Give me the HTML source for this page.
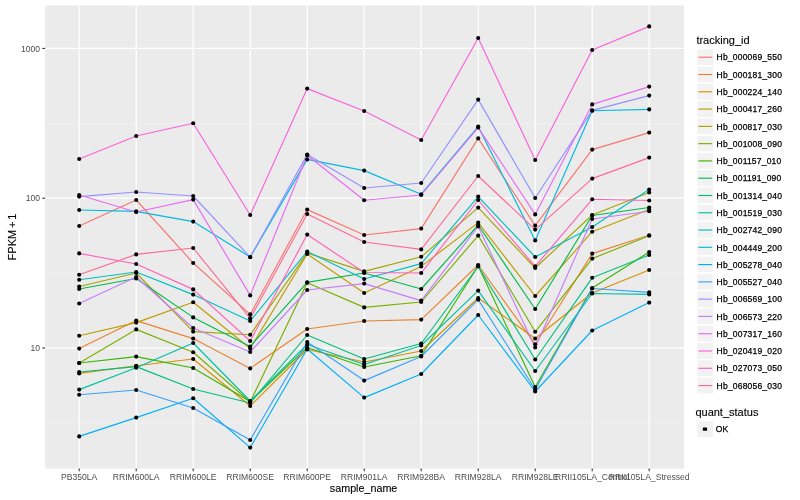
<!DOCTYPE html><html><head><meta charset="utf-8"><title>plot</title><style>html,body{margin:0;padding:0;background:#fff}svg{display:block;will-change:transform}text{font-family:"Liberation Sans",sans-serif;fill:#000}.a{font-size:8.6px;fill:#4D4D4D}.t{font-size:11px}.l{font-size:8.5px;letter-spacing:.2px;stroke:#000;stroke-width:.25px}.t{stroke:#000;stroke-width:.12px}</style></head><body>
<svg width="800" height="500" viewBox="0 0 800 500">
<rect width="800" height="500" fill="#fff"/>
<rect x="45.1" y="5.5" width="638.9" height="463.1" fill="#EBEBEB"/>
<line x1="45.1" x2="684" y1="123.4" y2="123.4" stroke="#F3F3F3" stroke-width="0.75"/>
<line x1="45.1" x2="684" y1="273.2" y2="273.2" stroke="#F3F3F3" stroke-width="0.75"/>
<line x1="45.1" x2="684" y1="423.1" y2="423.1" stroke="#F3F3F3" stroke-width="0.75"/>
<line x1="45.1" x2="684" y1="48.4" y2="48.4" stroke="#fff" stroke-width="1.25"/>
<line x1="45.1" x2="684" y1="198.2" y2="198.2" stroke="#fff" stroke-width="1.25"/>
<line x1="45.1" x2="684" y1="348.0" y2="348.0" stroke="#fff" stroke-width="1.25"/>
<line x1="79.2" x2="79.2" y1="5.5" y2="468.6" stroke="#fff" stroke-width="1.25"/>
<line x1="136.2" x2="136.2" y1="5.5" y2="468.6" stroke="#fff" stroke-width="1.25"/>
<line x1="193.2" x2="193.2" y1="5.5" y2="468.6" stroke="#fff" stroke-width="1.25"/>
<line x1="250.2" x2="250.2" y1="5.5" y2="468.6" stroke="#fff" stroke-width="1.25"/>
<line x1="307.2" x2="307.2" y1="5.5" y2="468.6" stroke="#fff" stroke-width="1.25"/>
<line x1="364.2" x2="364.2" y1="5.5" y2="468.6" stroke="#fff" stroke-width="1.25"/>
<line x1="421.2" x2="421.2" y1="5.5" y2="468.6" stroke="#fff" stroke-width="1.25"/>
<line x1="478.2" x2="478.2" y1="5.5" y2="468.6" stroke="#fff" stroke-width="1.25"/>
<line x1="535.2" x2="535.2" y1="5.5" y2="468.6" stroke="#fff" stroke-width="1.25"/>
<line x1="592.2" x2="592.2" y1="5.5" y2="468.6" stroke="#fff" stroke-width="1.25"/>
<line x1="649.2" x2="649.2" y1="5.5" y2="468.6" stroke="#fff" stroke-width="1.25"/>
<g fill="none" stroke-width="1.15" stroke-linejoin="round" stroke-linecap="butt">
<polyline points="79.2,226.0 136.2,200.0 193.2,263.0 250.2,314.4 307.2,209.6 364.2,235.0 421.2,228.6 478.2,138.4 535.2,225.6 592.2,149.6 649.2,132.6" stroke="#F8766D"/>
<polyline points="79.2,348.6 136.2,320.6 193.2,338.6 250.2,368.4 307.2,329.0 364.2,321.0 421.2,319.6 478.2,265.0 535.2,344.2 592.2,253.6 649.2,235.3" stroke="#EA8331"/>
<polyline points="79.2,373.4 136.2,365.8 193.2,359.0 250.2,406.0 307.2,349.5 364.2,362.0 421.2,351.0 478.2,298.0 535.2,338.5 592.2,293.0 649.2,270.0" stroke="#D89000"/>
<polyline points="79.2,335.8 136.2,322.6 193.2,302.2 250.2,348.5 307.2,254.0 364.2,293.0 421.2,266.4 478.2,222.6 535.2,296.0 592.2,231.7 649.2,209.5" stroke="#C09B00"/>
<polyline points="79.2,286.5 136.2,273.0 193.2,331.6 250.2,334.8 307.2,253.0 364.2,271.4 421.2,256.8 478.2,207.6 535.2,268.0 592.2,215.0 649.2,192.5" stroke="#A3A500"/>
<polyline points="79.2,363.0 136.2,329.4 193.2,352.2 250.2,402.0 307.2,282.8 364.2,307.4 421.2,302.0 478.2,235.6 535.2,331.8 592.2,258.6 649.2,235.7" stroke="#7CAE00"/>
<polyline points="79.2,363.0 136.2,356.6 193.2,368.0 250.2,401.5 307.2,347.5 364.2,367.0 421.2,355.8 478.2,266.0 535.2,387.0 592.2,288.0 649.2,252.0" stroke="#39B600"/>
<polyline points="79.2,289.0 136.2,278.5 193.2,317.4 250.2,346.5 307.2,282.4 364.2,273.0 421.2,289.0 478.2,225.0 535.2,309.0 592.2,215.5 649.2,207.5" stroke="#00BB4E"/>
<polyline points="79.2,372.0 136.2,366.6 193.2,389.0 250.2,403.0 307.2,335.0 364.2,359.0 421.2,343.5 478.2,266.5 535.2,359.5 592.2,277.8 649.2,255.0" stroke="#00BF7D"/>
<polyline points="79.2,389.6 136.2,367.8 193.2,343.0 250.2,401.0 307.2,344.5 364.2,364.5 421.2,345.5 478.2,290.6 535.2,371.0 592.2,293.5 649.2,294.4" stroke="#00C1A3"/>
<polyline points="79.2,279.8 136.2,272.0 193.2,294.6 250.2,321.0 307.2,251.5 364.2,279.0 421.2,263.6 478.2,196.6 535.2,257.0 592.2,227.0 649.2,189.5" stroke="#00BFC4"/>
<polyline points="79.2,210.0 136.2,211.4 193.2,221.6 250.2,257.0 307.2,159.4 364.2,170.6 421.2,194.2 478.2,126.6 535.2,240.4 592.2,110.8 649.2,109.4" stroke="#00BAE0"/>
<polyline points="79.2,436.4 136.2,417.6 193.2,398.2 250.2,447.6 307.2,349.0 364.2,397.6 421.2,374.0 478.2,315.0 535.2,391.5 592.2,330.5 649.2,302.6" stroke="#00B0F6"/>
<polyline points="79.2,394.8 136.2,390.0 193.2,408.0 250.2,440.0 307.2,342.0 364.2,380.6 421.2,356.5 478.2,299.6 535.2,389.5 592.2,288.5 649.2,292.4" stroke="#35A2FF"/>
<polyline points="79.2,196.6 136.2,192.0 193.2,196.0 250.2,257.2 307.2,154.6 364.2,188.0 421.2,183.0 478.2,99.6 535.2,198.0 592.2,110.4 649.2,95.6" stroke="#9590FF"/>
<polyline points="79.2,303.5 136.2,277.0 193.2,328.0 250.2,352.0 307.2,290.0 364.2,283.6 421.2,300.6 478.2,226.4 535.2,347.5 592.2,219.0 649.2,211.2" stroke="#C77CFF"/>
<polyline points="79.2,195.0 136.2,212.0 193.2,199.6 250.2,295.4 307.2,155.2 364.2,200.2 421.2,195.0 478.2,127.6 535.2,214.4 592.2,104.4 649.2,86.6" stroke="#E76BF3"/>
<polyline points="79.2,159.0 136.2,136.0 193.2,123.2 250.2,215.0 307.2,88.6 364.2,111.0 421.2,140.0 478.2,38.0 535.2,160.0 592.2,50.0 649.2,26.4" stroke="#FA62DB"/>
<polyline points="79.2,253.4 136.2,264.0 193.2,289.4 250.2,341.0 307.2,234.6 364.2,272.5 421.2,273.0 478.2,200.0 535.2,266.4 592.2,199.3 649.2,200.5" stroke="#FF62BC"/>
<polyline points="79.2,274.7 136.2,254.4 193.2,248.0 250.2,318.4 307.2,214.0 364.2,242.0 421.2,249.4 478.2,176.0 535.2,229.6 592.2,178.6 649.2,157.6" stroke="#FF6A98"/>
</g>
<g fill="#000">
<circle cx="79.2" cy="226.0" r="2.05"/>
<circle cx="136.2" cy="200.0" r="2.05"/>
<circle cx="193.2" cy="263.0" r="2.05"/>
<circle cx="250.2" cy="314.4" r="2.05"/>
<circle cx="307.2" cy="209.6" r="2.05"/>
<circle cx="364.2" cy="235.0" r="2.05"/>
<circle cx="421.2" cy="228.6" r="2.05"/>
<circle cx="478.2" cy="138.4" r="2.05"/>
<circle cx="535.2" cy="225.6" r="2.05"/>
<circle cx="592.2" cy="149.6" r="2.05"/>
<circle cx="649.2" cy="132.6" r="2.05"/>
<circle cx="79.2" cy="348.6" r="2.05"/>
<circle cx="136.2" cy="320.6" r="2.05"/>
<circle cx="193.2" cy="338.6" r="2.05"/>
<circle cx="250.2" cy="368.4" r="2.05"/>
<circle cx="307.2" cy="329.0" r="2.05"/>
<circle cx="364.2" cy="321.0" r="2.05"/>
<circle cx="421.2" cy="319.6" r="2.05"/>
<circle cx="478.2" cy="265.0" r="2.05"/>
<circle cx="535.2" cy="344.2" r="2.05"/>
<circle cx="592.2" cy="253.6" r="2.05"/>
<circle cx="649.2" cy="235.3" r="2.05"/>
<circle cx="79.2" cy="373.4" r="2.05"/>
<circle cx="136.2" cy="365.8" r="2.05"/>
<circle cx="193.2" cy="359.0" r="2.05"/>
<circle cx="250.2" cy="406.0" r="2.05"/>
<circle cx="307.2" cy="349.5" r="2.05"/>
<circle cx="364.2" cy="362.0" r="2.05"/>
<circle cx="421.2" cy="351.0" r="2.05"/>
<circle cx="478.2" cy="298.0" r="2.05"/>
<circle cx="535.2" cy="338.5" r="2.05"/>
<circle cx="592.2" cy="293.0" r="2.05"/>
<circle cx="649.2" cy="270.0" r="2.05"/>
<circle cx="79.2" cy="335.8" r="2.05"/>
<circle cx="136.2" cy="322.6" r="2.05"/>
<circle cx="193.2" cy="302.2" r="2.05"/>
<circle cx="250.2" cy="348.5" r="2.05"/>
<circle cx="307.2" cy="254.0" r="2.05"/>
<circle cx="364.2" cy="293.0" r="2.05"/>
<circle cx="421.2" cy="266.4" r="2.05"/>
<circle cx="478.2" cy="222.6" r="2.05"/>
<circle cx="535.2" cy="296.0" r="2.05"/>
<circle cx="592.2" cy="231.7" r="2.05"/>
<circle cx="649.2" cy="209.5" r="2.05"/>
<circle cx="79.2" cy="286.5" r="2.05"/>
<circle cx="136.2" cy="273.0" r="2.05"/>
<circle cx="193.2" cy="331.6" r="2.05"/>
<circle cx="250.2" cy="334.8" r="2.05"/>
<circle cx="307.2" cy="253.0" r="2.05"/>
<circle cx="364.2" cy="271.4" r="2.05"/>
<circle cx="421.2" cy="256.8" r="2.05"/>
<circle cx="478.2" cy="207.6" r="2.05"/>
<circle cx="535.2" cy="268.0" r="2.05"/>
<circle cx="592.2" cy="215.0" r="2.05"/>
<circle cx="649.2" cy="192.5" r="2.05"/>
<circle cx="79.2" cy="363.0" r="2.05"/>
<circle cx="136.2" cy="329.4" r="2.05"/>
<circle cx="193.2" cy="352.2" r="2.05"/>
<circle cx="250.2" cy="402.0" r="2.05"/>
<circle cx="307.2" cy="282.8" r="2.05"/>
<circle cx="364.2" cy="307.4" r="2.05"/>
<circle cx="421.2" cy="302.0" r="2.05"/>
<circle cx="478.2" cy="235.6" r="2.05"/>
<circle cx="535.2" cy="331.8" r="2.05"/>
<circle cx="592.2" cy="258.6" r="2.05"/>
<circle cx="649.2" cy="235.7" r="2.05"/>
<circle cx="79.2" cy="363.0" r="2.05"/>
<circle cx="136.2" cy="356.6" r="2.05"/>
<circle cx="193.2" cy="368.0" r="2.05"/>
<circle cx="250.2" cy="401.5" r="2.05"/>
<circle cx="307.2" cy="347.5" r="2.05"/>
<circle cx="364.2" cy="367.0" r="2.05"/>
<circle cx="421.2" cy="355.8" r="2.05"/>
<circle cx="478.2" cy="266.0" r="2.05"/>
<circle cx="535.2" cy="387.0" r="2.05"/>
<circle cx="592.2" cy="288.0" r="2.05"/>
<circle cx="649.2" cy="252.0" r="2.05"/>
<circle cx="79.2" cy="289.0" r="2.05"/>
<circle cx="136.2" cy="278.5" r="2.05"/>
<circle cx="193.2" cy="317.4" r="2.05"/>
<circle cx="250.2" cy="346.5" r="2.05"/>
<circle cx="307.2" cy="282.4" r="2.05"/>
<circle cx="364.2" cy="273.0" r="2.05"/>
<circle cx="421.2" cy="289.0" r="2.05"/>
<circle cx="478.2" cy="225.0" r="2.05"/>
<circle cx="535.2" cy="309.0" r="2.05"/>
<circle cx="592.2" cy="215.5" r="2.05"/>
<circle cx="649.2" cy="207.5" r="2.05"/>
<circle cx="79.2" cy="372.0" r="2.05"/>
<circle cx="136.2" cy="366.6" r="2.05"/>
<circle cx="193.2" cy="389.0" r="2.05"/>
<circle cx="250.2" cy="403.0" r="2.05"/>
<circle cx="307.2" cy="335.0" r="2.05"/>
<circle cx="364.2" cy="359.0" r="2.05"/>
<circle cx="421.2" cy="343.5" r="2.05"/>
<circle cx="478.2" cy="266.5" r="2.05"/>
<circle cx="535.2" cy="359.5" r="2.05"/>
<circle cx="592.2" cy="277.8" r="2.05"/>
<circle cx="649.2" cy="255.0" r="2.05"/>
<circle cx="79.2" cy="389.6" r="2.05"/>
<circle cx="136.2" cy="367.8" r="2.05"/>
<circle cx="193.2" cy="343.0" r="2.05"/>
<circle cx="250.2" cy="401.0" r="2.05"/>
<circle cx="307.2" cy="344.5" r="2.05"/>
<circle cx="364.2" cy="364.5" r="2.05"/>
<circle cx="421.2" cy="345.5" r="2.05"/>
<circle cx="478.2" cy="290.6" r="2.05"/>
<circle cx="535.2" cy="371.0" r="2.05"/>
<circle cx="592.2" cy="293.5" r="2.05"/>
<circle cx="649.2" cy="294.4" r="2.05"/>
<circle cx="79.2" cy="279.8" r="2.05"/>
<circle cx="136.2" cy="272.0" r="2.05"/>
<circle cx="193.2" cy="294.6" r="2.05"/>
<circle cx="250.2" cy="321.0" r="2.05"/>
<circle cx="307.2" cy="251.5" r="2.05"/>
<circle cx="364.2" cy="279.0" r="2.05"/>
<circle cx="421.2" cy="263.6" r="2.05"/>
<circle cx="478.2" cy="196.6" r="2.05"/>
<circle cx="535.2" cy="257.0" r="2.05"/>
<circle cx="592.2" cy="227.0" r="2.05"/>
<circle cx="649.2" cy="189.5" r="2.05"/>
<circle cx="79.2" cy="210.0" r="2.05"/>
<circle cx="136.2" cy="211.4" r="2.05"/>
<circle cx="193.2" cy="221.6" r="2.05"/>
<circle cx="250.2" cy="257.0" r="2.05"/>
<circle cx="307.2" cy="159.4" r="2.05"/>
<circle cx="364.2" cy="170.6" r="2.05"/>
<circle cx="421.2" cy="194.2" r="2.05"/>
<circle cx="478.2" cy="126.6" r="2.05"/>
<circle cx="535.2" cy="240.4" r="2.05"/>
<circle cx="592.2" cy="110.8" r="2.05"/>
<circle cx="649.2" cy="109.4" r="2.05"/>
<circle cx="79.2" cy="436.4" r="2.05"/>
<circle cx="136.2" cy="417.6" r="2.05"/>
<circle cx="193.2" cy="398.2" r="2.05"/>
<circle cx="250.2" cy="447.6" r="2.05"/>
<circle cx="307.2" cy="349.0" r="2.05"/>
<circle cx="364.2" cy="397.6" r="2.05"/>
<circle cx="421.2" cy="374.0" r="2.05"/>
<circle cx="478.2" cy="315.0" r="2.05"/>
<circle cx="535.2" cy="391.5" r="2.05"/>
<circle cx="592.2" cy="330.5" r="2.05"/>
<circle cx="649.2" cy="302.6" r="2.05"/>
<circle cx="79.2" cy="394.8" r="2.05"/>
<circle cx="136.2" cy="390.0" r="2.05"/>
<circle cx="193.2" cy="408.0" r="2.05"/>
<circle cx="250.2" cy="440.0" r="2.05"/>
<circle cx="307.2" cy="342.0" r="2.05"/>
<circle cx="364.2" cy="380.6" r="2.05"/>
<circle cx="421.2" cy="356.5" r="2.05"/>
<circle cx="478.2" cy="299.6" r="2.05"/>
<circle cx="535.2" cy="389.5" r="2.05"/>
<circle cx="592.2" cy="288.5" r="2.05"/>
<circle cx="649.2" cy="292.4" r="2.05"/>
<circle cx="79.2" cy="196.6" r="2.05"/>
<circle cx="136.2" cy="192.0" r="2.05"/>
<circle cx="193.2" cy="196.0" r="2.05"/>
<circle cx="250.2" cy="257.2" r="2.05"/>
<circle cx="307.2" cy="154.6" r="2.05"/>
<circle cx="364.2" cy="188.0" r="2.05"/>
<circle cx="421.2" cy="183.0" r="2.05"/>
<circle cx="478.2" cy="99.6" r="2.05"/>
<circle cx="535.2" cy="198.0" r="2.05"/>
<circle cx="592.2" cy="110.4" r="2.05"/>
<circle cx="649.2" cy="95.6" r="2.05"/>
<circle cx="79.2" cy="303.5" r="2.05"/>
<circle cx="136.2" cy="277.0" r="2.05"/>
<circle cx="193.2" cy="328.0" r="2.05"/>
<circle cx="250.2" cy="352.0" r="2.05"/>
<circle cx="307.2" cy="290.0" r="2.05"/>
<circle cx="364.2" cy="283.6" r="2.05"/>
<circle cx="421.2" cy="300.6" r="2.05"/>
<circle cx="478.2" cy="226.4" r="2.05"/>
<circle cx="535.2" cy="347.5" r="2.05"/>
<circle cx="592.2" cy="219.0" r="2.05"/>
<circle cx="649.2" cy="211.2" r="2.05"/>
<circle cx="79.2" cy="195.0" r="2.05"/>
<circle cx="136.2" cy="212.0" r="2.05"/>
<circle cx="193.2" cy="199.6" r="2.05"/>
<circle cx="250.2" cy="295.4" r="2.05"/>
<circle cx="307.2" cy="155.2" r="2.05"/>
<circle cx="364.2" cy="200.2" r="2.05"/>
<circle cx="421.2" cy="195.0" r="2.05"/>
<circle cx="478.2" cy="127.6" r="2.05"/>
<circle cx="535.2" cy="214.4" r="2.05"/>
<circle cx="592.2" cy="104.4" r="2.05"/>
<circle cx="649.2" cy="86.6" r="2.05"/>
<circle cx="79.2" cy="159.0" r="2.05"/>
<circle cx="136.2" cy="136.0" r="2.05"/>
<circle cx="193.2" cy="123.2" r="2.05"/>
<circle cx="250.2" cy="215.0" r="2.05"/>
<circle cx="307.2" cy="88.6" r="2.05"/>
<circle cx="364.2" cy="111.0" r="2.05"/>
<circle cx="421.2" cy="140.0" r="2.05"/>
<circle cx="478.2" cy="38.0" r="2.05"/>
<circle cx="535.2" cy="160.0" r="2.05"/>
<circle cx="592.2" cy="50.0" r="2.05"/>
<circle cx="649.2" cy="26.4" r="2.05"/>
<circle cx="79.2" cy="253.4" r="2.05"/>
<circle cx="136.2" cy="264.0" r="2.05"/>
<circle cx="193.2" cy="289.4" r="2.05"/>
<circle cx="250.2" cy="341.0" r="2.05"/>
<circle cx="307.2" cy="234.6" r="2.05"/>
<circle cx="364.2" cy="272.5" r="2.05"/>
<circle cx="421.2" cy="273.0" r="2.05"/>
<circle cx="478.2" cy="200.0" r="2.05"/>
<circle cx="535.2" cy="266.4" r="2.05"/>
<circle cx="592.2" cy="199.3" r="2.05"/>
<circle cx="649.2" cy="200.5" r="2.05"/>
<circle cx="79.2" cy="274.7" r="2.05"/>
<circle cx="136.2" cy="254.4" r="2.05"/>
<circle cx="193.2" cy="248.0" r="2.05"/>
<circle cx="250.2" cy="318.4" r="2.05"/>
<circle cx="307.2" cy="214.0" r="2.05"/>
<circle cx="364.2" cy="242.0" r="2.05"/>
<circle cx="421.2" cy="249.4" r="2.05"/>
<circle cx="478.2" cy="176.0" r="2.05"/>
<circle cx="535.2" cy="229.6" r="2.05"/>
<circle cx="592.2" cy="178.6" r="2.05"/>
<circle cx="649.2" cy="157.6" r="2.05"/>
</g>
<g stroke="#333" stroke-width="1.1">
<line x1="42.3" x2="45.1" y1="48.4" y2="48.4"/>
<line x1="42.3" x2="45.1" y1="198.2" y2="198.2"/>
<line x1="42.3" x2="45.1" y1="348.0" y2="348.0"/>
<line x1="79.2" x2="79.2" y1="468.6" y2="471.3"/>
<line x1="136.2" x2="136.2" y1="468.6" y2="471.3"/>
<line x1="193.2" x2="193.2" y1="468.6" y2="471.3"/>
<line x1="250.2" x2="250.2" y1="468.6" y2="471.3"/>
<line x1="307.2" x2="307.2" y1="468.6" y2="471.3"/>
<line x1="364.2" x2="364.2" y1="468.6" y2="471.3"/>
<line x1="421.2" x2="421.2" y1="468.6" y2="471.3"/>
<line x1="478.2" x2="478.2" y1="468.6" y2="471.3"/>
<line x1="535.2" x2="535.2" y1="468.6" y2="471.3"/>
<line x1="592.2" x2="592.2" y1="468.6" y2="471.3"/>
<line x1="649.2" x2="649.2" y1="468.6" y2="471.3"/>
</g>
<text class="a" x="40" y="51.6" text-anchor="end">1000</text>
<text class="a" x="40" y="201.39999999999998" text-anchor="end">100</text>
<text class="a" x="40" y="351.2" text-anchor="end">10</text>
<text class="a" x="79.2" y="479.7" text-anchor="middle">PB350LA</text>
<text class="a" x="136.2" y="479.7" text-anchor="middle">RRIM600LA</text>
<text class="a" x="193.2" y="479.7" text-anchor="middle">RRIM600LE</text>
<text class="a" x="250.2" y="479.7" text-anchor="middle">RRIM600SE</text>
<text class="a" x="307.2" y="479.7" text-anchor="middle">RRIM600PE</text>
<text class="a" x="364.2" y="479.7" text-anchor="middle">RRIM901LA</text>
<text class="a" x="421.2" y="479.7" text-anchor="middle">RRIM928BA</text>
<text class="a" x="478.2" y="479.7" text-anchor="middle">RRIM928LA</text>
<text class="a" x="535.2" y="479.7" text-anchor="middle">RRIM928LE</text>
<text class="a" x="592.2" y="479.7" text-anchor="middle">RRII105LA_Control</text>
<text class="a" x="649.2" y="479.7" text-anchor="middle">RRII105LA_Stressed</text>
<text class="t" x="363.6" y="492.2" text-anchor="middle" textLength="67.5" lengthAdjust="spacingAndGlyphs">sample_name</text>
<text class="t" transform="translate(16,237) rotate(-90)" text-anchor="middle" style="word-spacing:-1.2px">FPKM + 1</text>
<text class="t" x="696.4" y="44.2">tracking_id</text>
<rect x="696.6" y="48.60" width="17.28" height="17.28" fill="#F2F2F2" stroke="#fff" stroke-width="1.4"/>
<line x1="698.30" x2="712.18" y1="57.24" y2="57.24" stroke="#F8766D" stroke-width="1.15"/>
<text class="l" x="716.6" y="60.44">Hb_000069_550</text>
<rect x="696.6" y="65.88" width="17.28" height="17.28" fill="#F2F2F2" stroke="#fff" stroke-width="1.4"/>
<line x1="698.30" x2="712.18" y1="74.52" y2="74.52" stroke="#EA8331" stroke-width="1.15"/>
<text class="l" x="716.6" y="77.72">Hb_000181_300</text>
<rect x="696.6" y="83.16" width="17.28" height="17.28" fill="#F2F2F2" stroke="#fff" stroke-width="1.4"/>
<line x1="698.30" x2="712.18" y1="91.80" y2="91.80" stroke="#D89000" stroke-width="1.15"/>
<text class="l" x="716.6" y="95.00">Hb_000224_140</text>
<rect x="696.6" y="100.44" width="17.28" height="17.28" fill="#F2F2F2" stroke="#fff" stroke-width="1.4"/>
<line x1="698.30" x2="712.18" y1="109.08" y2="109.08" stroke="#C09B00" stroke-width="1.15"/>
<text class="l" x="716.6" y="112.28">Hb_000417_260</text>
<rect x="696.6" y="117.72" width="17.28" height="17.28" fill="#F2F2F2" stroke="#fff" stroke-width="1.4"/>
<line x1="698.30" x2="712.18" y1="126.36" y2="126.36" stroke="#A3A500" stroke-width="1.15"/>
<text class="l" x="716.6" y="129.56">Hb_000817_030</text>
<rect x="696.6" y="135.00" width="17.28" height="17.28" fill="#F2F2F2" stroke="#fff" stroke-width="1.4"/>
<line x1="698.30" x2="712.18" y1="143.64" y2="143.64" stroke="#7CAE00" stroke-width="1.15"/>
<text class="l" x="716.6" y="146.84">Hb_001008_090</text>
<rect x="696.6" y="152.28" width="17.28" height="17.28" fill="#F2F2F2" stroke="#fff" stroke-width="1.4"/>
<line x1="698.30" x2="712.18" y1="160.92" y2="160.92" stroke="#39B600" stroke-width="1.15"/>
<text class="l" x="716.6" y="164.12">Hb_001157_010</text>
<rect x="696.6" y="169.56" width="17.28" height="17.28" fill="#F2F2F2" stroke="#fff" stroke-width="1.4"/>
<line x1="698.30" x2="712.18" y1="178.20" y2="178.20" stroke="#00BB4E" stroke-width="1.15"/>
<text class="l" x="716.6" y="181.40">Hb_001191_090</text>
<rect x="696.6" y="186.84" width="17.28" height="17.28" fill="#F2F2F2" stroke="#fff" stroke-width="1.4"/>
<line x1="698.30" x2="712.18" y1="195.48" y2="195.48" stroke="#00BF7D" stroke-width="1.15"/>
<text class="l" x="716.6" y="198.68">Hb_001314_040</text>
<rect x="696.6" y="204.12" width="17.28" height="17.28" fill="#F2F2F2" stroke="#fff" stroke-width="1.4"/>
<line x1="698.30" x2="712.18" y1="212.76" y2="212.76" stroke="#00C1A3" stroke-width="1.15"/>
<text class="l" x="716.6" y="215.96">Hb_001519_030</text>
<rect x="696.6" y="221.40" width="17.28" height="17.28" fill="#F2F2F2" stroke="#fff" stroke-width="1.4"/>
<line x1="698.30" x2="712.18" y1="230.04" y2="230.04" stroke="#00BFC4" stroke-width="1.15"/>
<text class="l" x="716.6" y="233.24">Hb_002742_090</text>
<rect x="696.6" y="238.68" width="17.28" height="17.28" fill="#F2F2F2" stroke="#fff" stroke-width="1.4"/>
<line x1="698.30" x2="712.18" y1="247.32" y2="247.32" stroke="#00BAE0" stroke-width="1.15"/>
<text class="l" x="716.6" y="250.52">Hb_004449_200</text>
<rect x="696.6" y="255.96" width="17.28" height="17.28" fill="#F2F2F2" stroke="#fff" stroke-width="1.4"/>
<line x1="698.30" x2="712.18" y1="264.60" y2="264.60" stroke="#00B0F6" stroke-width="1.15"/>
<text class="l" x="716.6" y="267.80">Hb_005278_040</text>
<rect x="696.6" y="273.24" width="17.28" height="17.28" fill="#F2F2F2" stroke="#fff" stroke-width="1.4"/>
<line x1="698.30" x2="712.18" y1="281.88" y2="281.88" stroke="#35A2FF" stroke-width="1.15"/>
<text class="l" x="716.6" y="285.08">Hb_005527_040</text>
<rect x="696.6" y="290.52" width="17.28" height="17.28" fill="#F2F2F2" stroke="#fff" stroke-width="1.4"/>
<line x1="698.30" x2="712.18" y1="299.16" y2="299.16" stroke="#9590FF" stroke-width="1.15"/>
<text class="l" x="716.6" y="302.36">Hb_006569_100</text>
<rect x="696.6" y="307.80" width="17.28" height="17.28" fill="#F2F2F2" stroke="#fff" stroke-width="1.4"/>
<line x1="698.30" x2="712.18" y1="316.44" y2="316.44" stroke="#C77CFF" stroke-width="1.15"/>
<text class="l" x="716.6" y="319.64">Hb_006573_220</text>
<rect x="696.6" y="325.08" width="17.28" height="17.28" fill="#F2F2F2" stroke="#fff" stroke-width="1.4"/>
<line x1="698.30" x2="712.18" y1="333.72" y2="333.72" stroke="#E76BF3" stroke-width="1.15"/>
<text class="l" x="716.6" y="336.92">Hb_007317_160</text>
<rect x="696.6" y="342.36" width="17.28" height="17.28" fill="#F2F2F2" stroke="#fff" stroke-width="1.4"/>
<line x1="698.30" x2="712.18" y1="351.00" y2="351.00" stroke="#FA62DB" stroke-width="1.15"/>
<text class="l" x="716.6" y="354.20">Hb_020419_020</text>
<rect x="696.6" y="359.64" width="17.28" height="17.28" fill="#F2F2F2" stroke="#fff" stroke-width="1.4"/>
<line x1="698.30" x2="712.18" y1="368.28" y2="368.28" stroke="#FF62BC" stroke-width="1.15"/>
<text class="l" x="716.6" y="371.48">Hb_027073_050</text>
<rect x="696.6" y="376.92" width="17.28" height="17.28" fill="#F2F2F2" stroke="#fff" stroke-width="1.4"/>
<line x1="698.30" x2="712.18" y1="385.56" y2="385.56" stroke="#FF6A98" stroke-width="1.15"/>
<text class="l" x="716.6" y="388.76">Hb_068056_030</text>
<text class="t" x="695.4" y="415.6">quant_status</text>
<rect x="696.6" y="420.6" width="17.28" height="17.28" fill="#F2F2F2" stroke="#fff" stroke-width="1.4"/>
<rect x="702.8" y="427.6" width="4.3" height="3.2" rx="0.9" fill="#000"/>
<text class="l" x="715.7" y="432.4">OK</text>
</svg></body></html>
